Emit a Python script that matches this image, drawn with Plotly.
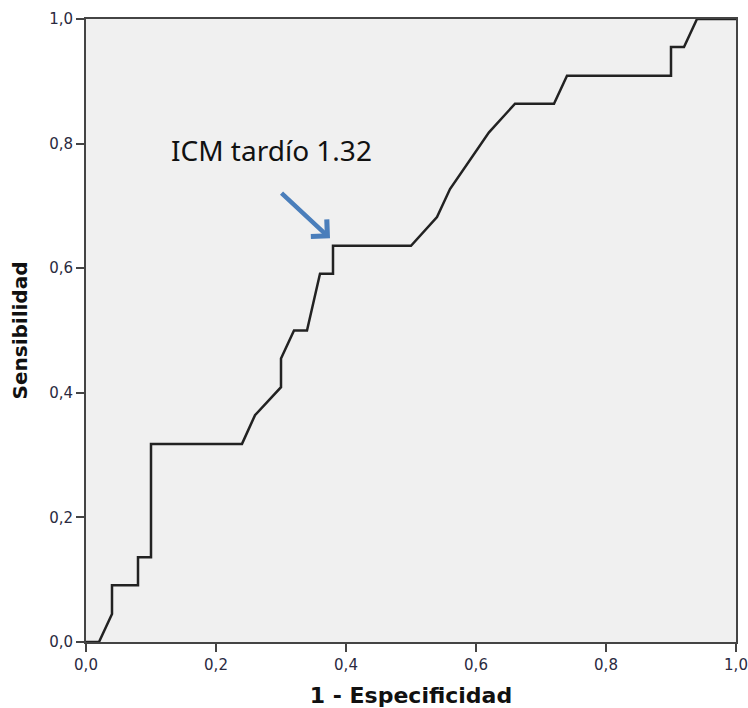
import plotly.graph_objects as go

# ROC curve data (1 - specificity, sensitivity)
fpr = [0.00, 0.02, 0.04, 0.04, 0.08, 0.08, 0.10, 0.10, 0.24, 0.26, 0.30, 0.30,
       0.32, 0.34, 0.36, 0.38, 0.38, 0.50, 0.54, 0.56, 0.62, 0.66, 0.72, 0.74,
       0.90, 0.90, 0.92, 0.94, 1.00]
tpr = [0.000, 0.000, 0.045, 0.091, 0.091, 0.136, 0.136, 0.318, 0.318, 0.364,
       0.409, 0.455, 0.500, 0.500, 0.591, 0.591, 0.636, 0.636, 0.682, 0.727,
       0.818, 0.864, 0.864, 0.909, 0.909, 0.955, 0.955, 1.000, 1.000]

tick_vals = [0.0, 0.2, 0.4, 0.6, 0.8, 1.0]

annot_text = "ICM tardío 1.32"
annot_text_pos = (0.2857, 0.790)
arrow_head = (0.3754, 0.648)
arrow_tail = (0.2985, 0.7228)

fig = go.Figure()
fig.add_trace(go.Scatter(
    x=fpr, y=tpr, mode="lines",
    line=dict(color="#222222", width=2.5),
    showlegend=False, hoverinfo="skip",
))

axis_common = dict(
    range=[0, 1], tickvals=tick_vals, tickformat=".1f",
    showgrid=False, zeroline=False,
    showline=True, mirror=True, linewidth=2, linecolor="#444444",
    ticks="outside", ticklen=8, tickwidth=2, tickcolor="#444444",
    tickfont=dict(family="DejaVu Sans", size=15, color="#2a2a40"),
)

fig.update_xaxes(**axis_common,
                 title=dict(text="1 - Especificidad",
                            font=dict(family="DejaVu Sans", size=22, color="#111111",
                                      weight="bold"),
                            standoff=16))
fig.update_yaxes(**axis_common,
                 title=dict(text="Sensibilidad",
                            font=dict(family="DejaVu Sans", size=20, color="#111111",
                                      weight="bold"),
                            standoff=16))

fig.add_annotation(
    x=annot_text_pos[0], y=annot_text_pos[1], xref="x", yref="y",
    text=annot_text, showarrow=False,
    font=dict(family="Noto Sans", size=28, color="#111111"),
)
fig.add_annotation(
    x=arrow_head[0], y=arrow_head[1], xref="x", yref="y",
    ax=arrow_tail[0], ay=arrow_tail[1], axref="x", ayref="y",
    text="", showarrow=True, arrowhead=4, arrowsize=1, arrowwidth=4.5,
    arrowcolor="#4a7ebb", standoff=0,
)

fig.update_layout(
    width=748, height=708,
    margin=dict(l=86, r=12, t=19, b=66, autoexpand=False),
    paper_bgcolor="white", plot_bgcolor="#f0f0f0",
    separators=",.",
)

fig.write_html("out.html")
